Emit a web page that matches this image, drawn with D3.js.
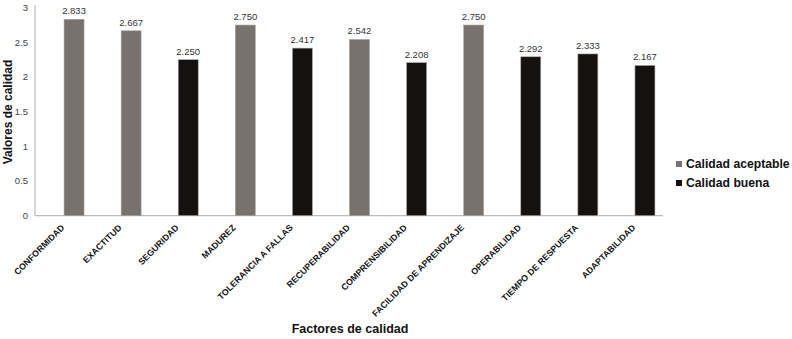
<!DOCTYPE html>
<html><head><meta charset="utf-8">
<script src="https://cdn.jsdelivr.net/npm/d3@7"></script>
<style>body{margin:0;background:#fff}svg{display:block;font-family:"Liberation Sans",Arial,sans-serif}</style>
</head><body><svg id="c" width="792" height="339"></svg>
<script>
const categories = ["CONFORMIDAD","EXACTITUD","SEGURIDAD","MADUREZ","TOLERANCIA A FALLAS","RECUPERABILIDAD","COMPRENSIBILIDAD","FACILIDAD DE APRENDIZAJE","OPERABILIDAD","TIEMPO DE RESPUESTA","ADAPTABILIDAD"];
const values = [2.833,2.667,2.250,2.750,2.417,2.542,2.208,2.750,2.292,2.333,2.167];
const series = ["Calidad aceptable","Calidad aceptable","Calidad buena","Calidad aceptable","Calidad buena","Calidad aceptable","Calidad buena","Calidad aceptable","Calidad buena","Calidad buena","Calidad buena"];
const legendItems = ["Calidad aceptable","Calidad buena"];
const yTicks = [0,0.5,1,1.5,2,2.5,3];
const colors = {"Calidad aceptable":"#77726e","Calidad buena":"#141111"};

const svg = d3.select("#c");
const y = d3.scaleLinear().domain([0,3]).range([215.7,7.7]);
const x = d3.scaleBand().domain(categories).range([45.5,673.5]).paddingInner(0.65).paddingOuter(0.325);

// axes lines
svg.append("line").attr("x1",35).attr("x2",35).attr("y1",y(3)-3).attr("y2",y(0)).attr("stroke","#bdbdbd").attr("stroke-width",1.2);
svg.append("line").attr("x1",35).attr("x2",663).attr("y1",y(0)).attr("y2",y(0)).attr("stroke","#bdbdbd").attr("stroke-width",1.2);

// y tick labels
svg.selectAll(".yt").data(yTicks).enter().append("text")
  .attr("x",28).attr("y",d=>y(d)).attr("dy","0.35em").attr("text-anchor","end")
  .attr("font-size",9.5).attr("fill","#444").text(d=>d);

// bars
const data = categories.map((c,i)=>({c,v:values[i],s:series[i]}));
svg.selectAll(".bar").data(data).enter().append("rect")
  .attr("x",d=>x(d.c)).attr("width",x.bandwidth())
  .attr("y",d=>y(d.v)).attr("height",d=>y(0)-y(d.v))
  .attr("fill",d=>colors[d.s]).attr("stroke","#a8a5a2").attr("stroke-width",0.6);

// value labels
svg.selectAll(".vl").data(data).enter().append("text")
  .attr("x",d=>x(d.c)+x.bandwidth()/2).attr("y",d=>y(d.v)-5)
  .attr("text-anchor","middle").attr("font-size",9.5).attr("fill","#333")
  .text(d=>d.v.toFixed(3));

// category labels
svg.selectAll(".cl").data(categories).enter().append("text")
  .attr("transform",d=>`translate(${x(d)+x.bandwidth()/2-9},${y(0)+12.5}) rotate(-45)`)
  .attr("text-anchor","end").attr("font-size",8.8).attr("font-weight","bold").attr("fill","#111")
  .text(d=>d);

// axis titles
svg.append("text").attr("transform",`translate(12,112) rotate(-90)`).attr("text-anchor","middle")
  .attr("font-size",12).attr("font-weight","bold").attr("fill","#111").text("Valores de calidad");
svg.append("text").attr("x",350).attr("y",333).attr("text-anchor","middle")
  .attr("font-size",12.5).attr("font-weight","bold").attr("fill","#111").text("Factores de calidad");

// legend
const lg = svg.selectAll(".lg").data(legendItems).enter().append("g")
  .attr("transform",(d,i)=>`translate(676,${164+i*19})`);
lg.append("rect").attr("x",0).attr("y",-3).attr("width",6).attr("height",6).attr("fill",d=>colors[d]);
lg.append("text").attr("x",10).attr("dy","0.36em").attr("font-size",12.2).attr("font-weight","bold").attr("fill","#111").text(d=>d);
</script></body></html>
